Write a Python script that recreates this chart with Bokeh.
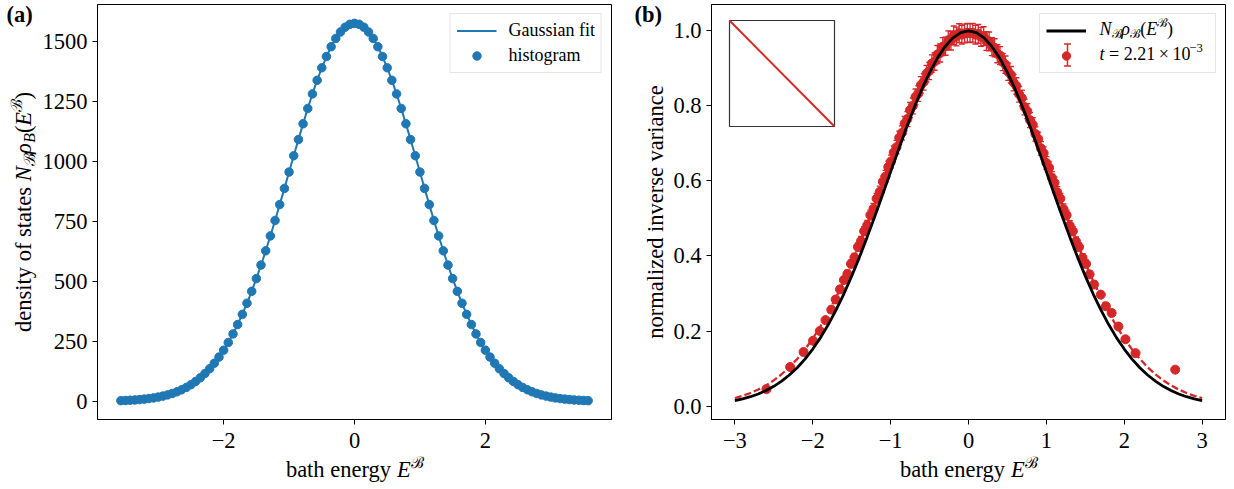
import math

from bokeh.core.properties import value
from bokeh.embed import file_html
from bokeh.layouts import row
from bokeh.models import (Arrow, ColumnDataSource, FixedTicker, Legend,
                          LegendItem, Range1d, TeeHead, Whisker)
from bokeh.plotting import figure
from bokeh.resources import INLINE

# ---------------- panel (a): histogram of bath energies ----------------
hist_energy = [
    -3.571, -3.5, -3.429, -3.357, -3.286, -3.214, -3.143, -3.071, -3.0, -2.929,
    -2.857, -2.786, -2.714, -2.643, -2.571, -2.5, -2.429, -2.357, -2.286, -2.214,
    -2.143, -2.071, -2.0, -1.929, -1.857, -1.786, -1.714, -1.643, -1.571, -1.5,
    -1.429, -1.357, -1.286, -1.214, -1.143, -1.071, -1.0, -0.929, -0.857, -0.786,
    -0.714, -0.643, -0.571, -0.5, -0.429, -0.357, -0.286, -0.214, -0.143, -0.071,
    0.0,
    0.071, 0.143, 0.214, 0.286, 0.357, 0.429, 0.5, 0.571, 0.643, 0.714,
    0.786, 0.857, 0.929, 1.0, 1.071, 1.143, 1.214, 1.286, 1.357, 1.429,
    1.5, 1.571, 1.643, 1.714, 1.786, 1.857, 1.929, 2.0, 2.071, 2.143,
    2.214, 2.286, 2.357, 2.429, 2.5, 2.571, 2.643, 2.714, 2.786, 2.857,
    2.929, 3.0, 3.071, 3.143, 3.214, 3.286, 3.357, 3.429, 3.5, 3.571,
]
hist_counts = [
    2.7, 3.4, 4.4, 5.6, 7.1, 9.0, 11.3, 14.1, 17.5, 21.6,
    26.6, 32.5, 39.6, 47.9, 57.8, 69.2, 82.5, 97.9, 115.6, 135.7,
    158.6, 184.3, 213.2, 245.3, 280.8, 319.8, 362.3, 408.5, 458.2, 511.3,
    567.7, 627.1, 689.2, 753.5, 819.7, 887.2, 955.3, 1023.4, 1090.8, 1156.7,
    1220.4, 1281.0, 1337.7, 1389.9, 1436.8, 1477.7, 1512.0, 1539.2, 1559.0, 1571.0,
    1575.0,
    1571.0, 1559.0, 1539.2, 1512.0, 1477.7, 1436.8, 1389.9, 1337.7, 1281.0, 1220.4,
    1156.7, 1090.8, 1023.4, 955.3, 887.2, 819.7, 753.5, 689.2, 627.1, 567.7,
    511.3, 458.2, 408.5, 362.3, 319.8, 280.8, 245.3, 213.2, 184.3, 158.6,
    135.7, 115.6, 97.9, 82.5, 69.2, 57.8, 47.9, 39.6, 32.5, 26.6,
    21.6, 17.5, 14.1, 11.3, 9.0, 7.1, 5.6, 4.4, 3.4, 2.7,
]
fit_energy = [
    -3.5, -3.4, -3.3, -3.2, -3.1, -3.0, -2.9, -2.8, -2.7, -2.6,
    -2.5, -2.4, -2.3, -2.2, -2.1, -2.0, -1.9, -1.8, -1.7, -1.6,
    -1.5, -1.4, -1.3, -1.2, -1.1, -1.0, -0.9, -0.8, -0.7, -0.6,
    -0.5, -0.4, -0.3, -0.2, -0.1, 0.0, 0.1, 0.2, 0.3, 0.4,
    0.5, 0.6, 0.7, 0.8, 0.9, 1.0, 1.1, 1.2, 1.3, 1.4,
    1.5, 1.6, 1.7, 1.8, 1.9, 2.0, 2.1, 2.2, 2.3, 2.4,
    2.5, 2.6, 2.7, 2.8, 2.9, 3.0, 3.1, 3.2, 3.3, 3.4, 3.5,
]
fit_counts = [
    3.4, 4.9, 6.8, 9.4, 12.9, 17.5, 23.5, 31.2, 41.1, 53.6,
    69.2, 88.4, 111.8, 140.1, 173.6, 213.2, 259.0, 311.7, 371.3, 437.9,
    511.3, 591.1, 676.6, 766.6, 860.1, 955.3, 1050.5, 1143.7, 1232.8, 1315.6,
    1389.9, 1453.9, 1505.7, 1543.8, 1567.1, 1575.0, 1567.1, 1543.8, 1505.7, 1453.9,
    1389.9, 1315.6, 1232.8, 1143.7, 1050.5, 955.3, 860.1, 766.6, 676.6, 591.1,
    511.3, 437.9, 371.3, 311.7, 259.0, 213.2, 173.6, 140.1, 111.8, 88.4,
    69.2, 53.6, 41.1, 31.2, 23.5, 17.5, 12.9, 9.4, 6.8, 4.9, 3.4,
]
a_xticks = [-2, 0, 2]
a_xtick_labels = ["\u22122", "0", "2"]
a_yticks = [0, 250, 500, 750, 1000, 1250, 1500]
a_ytick_labels = ["0", "250", "500", "750", "1000", "1250", "1500"]

# ---------------- panel (b): normalized inverse variance ----------------
inv_var_energy = [
    -2.594, -2.290, -2.118, -1.996, -1.909, -1.836, -1.762, -1.706, -1.650,
    -1.600, -1.555, -1.510, -1.465, -1.420, -1.380, -1.340, -1.300, -1.260,
    -1.220, -1.180, -1.140, -1.100,
    -1.065, -1.030, -0.995, -0.960, -0.925, -0.890, -0.855, -0.820, -0.785, -0.750,
    -0.715, -0.680, -0.645, -0.610, -0.575, -0.540, -0.505, -0.470, -0.435, -0.400,
    -0.365, -0.330, -0.295, -0.260, -0.225, -0.190, -0.155, -0.120, -0.085, -0.050,
    -0.015,
    0.020, 0.055, 0.090, 0.125, 0.160, 0.195, 0.230, 0.265, 0.300, 0.335,
    0.370, 0.405, 0.440, 0.475, 0.510, 0.545, 0.580, 0.615, 0.650, 0.685,
    0.720, 0.755, 0.790, 0.825, 0.860, 0.895, 0.930, 0.965, 1.000, 1.035,
    1.070, 1.105,
    1.140, 1.180, 1.220, 1.260, 1.300, 1.340, 1.380, 1.420, 1.465, 1.510, 1.555,
    1.612, 1.699, 1.764, 1.838, 1.925, 2.015, 2.145, 2.654,
]
inv_var = [
    0.045, 0.104, 0.144, 0.174, 0.200, 0.229, 0.257, 0.284, 0.311,
    0.336, 0.352, 0.379, 0.396, 0.424, 0.440, 0.466, 0.482, 0.509,
    0.526, 0.553, 0.571, 0.598,
    0.612, 0.637, 0.652, 0.676, 0.690, 0.715, 0.728, 0.753, 0.765, 0.789,
    0.800, 0.824, 0.833, 0.856, 0.864, 0.886, 0.893, 0.913, 0.918, 0.937,
    0.941, 0.958, 0.959, 0.975, 0.974, 0.988, 0.985, 0.994, 0.990, 0.993,
    0.995,
    0.994, 0.995, 0.990, 0.992, 0.984, 0.986, 0.973, 0.972, 0.958, 0.955,
    0.939, 0.934, 0.917, 0.910, 0.891, 0.883, 0.862, 0.853, 0.831, 0.821,
    0.797, 0.786, 0.762, 0.750, 0.725, 0.712, 0.687, 0.674, 0.648, 0.635,
    0.609, 0.595,
    0.570, 0.553, 0.525, 0.509, 0.481, 0.466, 0.439, 0.424, 0.395, 0.379, 0.351,
    0.324, 0.297, 0.266, 0.248, 0.212, 0.178, 0.141, 0.097,
]
inv_var_err = [
    0.004, 0.005, 0.006, 0.006, 0.007, 0.007, 0.008, 0.008, 0.009,
    0.009, 0.010, 0.010, 0.011, 0.011, 0.012, 0.012, 0.013, 0.013,
    0.014, 0.014, 0.015, 0.015,
    0.016, 0.016, 0.017, 0.017, 0.018, 0.018, 0.019, 0.019, 0.020, 0.020,
    0.021, 0.021, 0.021, 0.022, 0.022, 0.022, 0.023, 0.023, 0.023, 0.024,
    0.024, 0.024, 0.024, 0.025, 0.025, 0.025, 0.025, 0.025, 0.025, 0.025,
    0.025,
    0.025, 0.025, 0.025, 0.025, 0.025, 0.025, 0.025, 0.025, 0.024, 0.024,
    0.024, 0.024, 0.023, 0.023, 0.023, 0.022, 0.022, 0.022, 0.021, 0.021,
    0.021, 0.020, 0.020, 0.019, 0.019, 0.018, 0.018, 0.017, 0.017, 0.016,
    0.016, 0.015,
    0.015, 0.014, 0.014, 0.013, 0.013, 0.012, 0.012, 0.011, 0.011, 0.010, 0.010,
    0.009, 0.008, 0.008, 0.007, 0.007, 0.006, 0.006, 0.005,
]
curve_energy = [
    -3.0, -2.9, -2.8, -2.7, -2.6, -2.5, -2.4, -2.3, -2.2, -2.1,
    -2.0, -1.9, -1.8, -1.7, -1.6, -1.5, -1.4, -1.3, -1.2, -1.1,
    -1.0, -0.9, -0.8, -0.7, -0.6, -0.5, -0.4, -0.3, -0.2, -0.1,
    0.0,
    0.1, 0.2, 0.3, 0.4, 0.5, 0.6, 0.7, 0.8, 0.9, 1.0,
    1.1, 1.2, 1.3, 1.4, 1.5, 1.6, 1.7, 1.8, 1.9, 2.0,
    2.1, 2.2, 2.3, 2.4, 2.5, 2.6, 2.7, 2.8, 2.9, 3.0,
]
# N_B rho_B(E^B), normalised to its maximum
dos_curve = [
    0.0144, 0.0190, 0.0249, 0.0322, 0.0413, 0.0526, 0.0662, 0.0827, 0.1022, 0.1251,
    0.1518, 0.1824, 0.2172, 0.2561, 0.2992, 0.3463, 0.3970, 0.4509, 0.5073, 0.5654,
    0.6242, 0.6827, 0.7396, 0.7938, 0.8439, 0.8888, 0.9274, 0.9585, 0.9813, 0.9953,
    1.0,
    0.9953, 0.9813, 0.9585, 0.9274, 0.8888, 0.8439, 0.7938, 0.7396, 0.6827, 0.6242,
    0.5654, 0.5073, 0.4509, 0.3970, 0.3463, 0.2992, 0.2561, 0.2172, 0.1824, 0.1518,
    0.1251, 0.1022, 0.0827, 0.0662, 0.0526, 0.0413, 0.0322, 0.0249, 0.0190, 0.0144,
]
# Gaussian fit to the inverse-variance points
inv_var_fit = [
    0.0211, 0.0272, 0.0347, 0.0439, 0.0551, 0.0686, 0.0847, 0.1036, 0.1256, 0.1510,
    0.1800, 0.2128, 0.2494, 0.2897, 0.3337, 0.3812, 0.4316, 0.4846, 0.5394, 0.5953,
    0.6514, 0.7067, 0.7601, 0.8105, 0.8570, 0.8984, 0.9337, 0.9622, 0.9830, 0.9957,
    1.0,
    0.9957, 0.9830, 0.9622, 0.9337, 0.8984, 0.8570, 0.8105, 0.7601, 0.7067, 0.6514,
    0.5953, 0.5394, 0.4846, 0.4316, 0.3812, 0.3337, 0.2897, 0.2494, 0.2128, 0.1800,
    0.1510, 0.1256, 0.1036, 0.0847, 0.0686, 0.0551, 0.0439, 0.0347, 0.0272, 0.0211,
]
b_xticks = [-3, -2, -1, 0, 1, 2, 3]
b_xtick_labels = ["\u22123", "\u22122", "\u22121", "0", "1", "2", "3"]
b_yticks = [0.0, 0.2, 0.4, 0.6, 0.8, 1.0]
b_ytick_labels = ["0.0", "0.2", "0.4", "0.6", "0.8", "1.0"]
inset_x = [0.0, 1.0]
inset_y = [1.0, 0.0]

# ---------------- styling / layout ----------------
BLUE = "#1f77b4"
RED = "#d62728"
SERIF = "Liberation Serif"
FONT_PX = 22.5
LEGEND_PX = 18

FRAME_W, FRAME_H = 514, 415
BORDER_TOP, BORDER_BOTTOM = 4, 70
A_LEFT, A_RIGHT = 97, 9
B_LEFT, B_RIGHT = 91, 9
MID_RISE = 0.32   # height of the em-box middle above the baseline, in em

# advance widths (1/1000 em) of the Times-metric serif face
ROMAN = {" ": 250, "\u2009": 167, "(": 333, ")": 333, ".": 250, "=": 564,
         "\u00d7": 564, "\u2212": 564, "a": 444, "b": 500, "c": 444, "d": 500,
         "e": 444, "f": 333, "g": 500, "h": 500, "i": 278, "l": 278, "m": 778,
         "n": 500, "o": 500, "r": 333, "s": 389, "t": 278, "u": 500, "v": 500,
         "y": 500, "z": 444, "B": 667, "E": 611, "G": 722, "N": 722}
ROMAN.update({d: 500 for d in "0123456789"})
ITALIC = {"E": 611, "N": 667, "B": 611, "t": 278, "\u03c1": 500}
SCRIPT_B = "\u212c"
SCRIPT_W = 780


def text_width(s, style, px):
    table = ITALIC if style == "italic" else ROMAN
    units = 0
    for ch in s:
        if ch == SCRIPT_B:
            units += SCRIPT_W
        else:
            units += table.get(ch, ROMAN.get(ch, 500))
    return units * px / 1000.0


def place_text(p, sx, sy, text, px, style="normal", angle=0.0, align="left"):
    """Text whose baseline starts (sx, sy) pixels from the frame's bottom-left
    corner (sy counted upwards)."""
    rise = MID_RISE * px
    if angle:
        sx -= rise
    else:
        sy += rise
    p.text(x=[p.x_range.start], y=[p.y_range.start], text=[text],
           x_offset=sx, y_offset=-sy, angle=angle,
           text_font=value(SERIF), text_font_size=f"{px:.1f}px",
           text_font_style=style, text_color="black", text_align=align,
           text_baseline="middle", level="overlay")


def rich_label(p, sx, sy, pieces, px, vertical=False, centered=True):
    """Lay out a run of text pieces (text, style, scale, rise in em)."""
    widths = [text_width(t, st, px * sc) for t, st, sc, _ in pieces]
    pos = -sum(widths) / 2.0 if centered else 0.0
    for (t, st, sc, rise), w in zip(pieces, widths):
        lead = len(t) - len(t.lstrip(" "))
        along = pos + text_width(" " * lead, st, px * sc)
        up = rise * px
        if vertical:
            place_text(p, sx - up, sy + along, t.strip(" "), px * sc, st,
                       angle=math.pi / 2)
        else:
            place_text(p, sx + along, sy + up, t.strip(" "), px * sc, st)
        pos += w


def padded_range(values, frac=0.05):
    lo, hi = min(values), max(values)
    pad = (hi - lo) * frac
    return Range1d(lo - pad, hi + pad)


def make_figure(xr, yr, left, right):
    p = figure(x_range=xr, y_range=yr, frame_width=FRAME_W, frame_height=FRAME_H,
               min_border_left=left, min_border_right=right,
               min_border_top=BORDER_TOP, min_border_bottom=BORDER_BOTTOM,
               output_backend="svg", toolbar_location=None,
               background_fill_color="white", border_fill_color="white")
    p.grid.visible = False
    p.outline_line_color = "black"
    p.outline_line_width = 1
    p.outline_line_alpha = 1
    return p


def style_axes(p, xticks, xlabels, yticks, ylabels):
    p.xaxis.ticker = FixedTicker(ticks=xticks)
    p.yaxis.ticker = FixedTicker(ticks=yticks)
    p.xaxis.major_label_overrides = dict(zip(xticks, xlabels))
    p.yaxis.major_label_overrides = dict(zip(yticks, ylabels))
    for ax in p.axis:
        ax.axis_line_color = "black"
        ax.axis_line_width = 1
        ax.major_tick_line_color = "black"
        ax.major_tick_line_width = 1
        ax.major_tick_out = 5
        ax.major_tick_in = 0
        ax.minor_tick_line_color = None
        ax.major_label_text_font = SERIF
        ax.major_label_text_font_size = f"{FONT_PX}px"
        ax.major_label_text_color = "black"
    p.xaxis.major_label_standoff = 8
    p.yaxis.major_label_standoff = 5


def make_legend(items, label_width=None, bg_alpha=0.8):
    leg = Legend(items=items, location="top_right", margin=9, padding=6,
                 spacing=4, glyph_width=40, glyph_height=21, label_height=21,
                 label_standoff=12, label_text_font=SERIF,
                 label_text_font_size=f"{LEGEND_PX}px", label_text_color="black",
                 border_line_color="#cccccc", border_line_width=1,
                 background_fill_color="white", background_fill_alpha=bg_alpha)
    if label_width is not None:
        leg.label_width = label_width
    return leg


XLABEL = [("bath energy ", "normal", 1.0, 0.0), ("E", "italic", 1.0, 0.0),
          (SCRIPT_B, "normal", 0.7, 0.42)]
XLABEL_BASELINE = -57
PANEL_TAG_BASELINE = FRAME_H - 17

# ---------------- panel (a) ----------------
pa = make_figure(padded_range(hist_energy), padded_range(hist_counts + fit_counts),
                 A_LEFT, A_RIGHT)
style_axes(pa, a_xticks, a_xtick_labels, a_yticks, a_ytick_labels)
fit_r = pa.line(fit_energy, fit_counts, line_color=BLUE, line_width=2)
hist_r = pa.scatter(hist_energy, hist_counts, marker="circle", size=8.5,
                    fill_color=BLUE, line_color=BLUE)
pa.add_layout(make_legend([LegendItem(label="Gaussian fit", renderers=[fit_r]),
                           LegendItem(label="histogram", renderers=[hist_r])]))

rich_label(pa, FRAME_W / 2, XLABEL_BASELINE, XLABEL, FONT_PX)
rich_label(pa, -67, FRAME_H / 2,
           [("density of states ", "normal", 1.0, 0.0), ("N", "italic", 1.0, 0.0),
            (SCRIPT_B, "normal", 0.7, -0.18), ("\u03c1", "italic", 1.0, 0.0),
            ("B", "italic", 0.7, -0.18), ("(", "normal", 1.0, 0.0),
            ("E", "italic", 1.0, 0.0), (SCRIPT_B, "normal", 0.7, 0.42),
            (")", "normal", 1.0, 0.0)],
           FONT_PX, vertical=True)
place_text(pa, -91, PANEL_TAG_BASELINE, "(a)", FONT_PX, "bold")

# ---------------- panel (b) ----------------
lower = [v - e for v, e in zip(inv_var, inv_var_err)]
upper = [v + e for v, e in zip(inv_var, inv_var_err)]
pb = make_figure(padded_range(curve_energy + inv_var_energy),
                 padded_range(dos_curve + inv_var_fit + lower + upper),
                 B_LEFT, B_RIGHT)
style_axes(pb, b_xticks, b_xtick_labels, b_yticks, b_ytick_labels)

err_src = ColumnDataSource(dict(x=inv_var_energy, lower=lower, upper=upper))
pb.add_layout(Whisker(source=err_src, base="x", lower="lower", upper="upper",
                      dimension="height", line_color=RED, line_width=1.3,
                      level="underlay",
                      upper_head=TeeHead(size=6, line_color=RED, line_width=1.3),
                      lower_head=TeeHead(size=6, line_color=RED, line_width=1.3)))
pts_r = pb.scatter(inv_var_energy, inv_var, marker="circle", size=9,
                   fill_color=RED, line_color=RED)
pb.line(curve_energy, inv_var_fit, line_color=RED, line_width=2.3, line_dash="7 3")
dos_r = pb.line(curve_energy, dos_curve, line_color="black", line_width=2.8)

# inset axes in the upper left corner
INSET_LEFT, INSET_TOP, INSET_W, INSET_H = 18, 16, 105, 106
inset_bottom = FRAME_H - INSET_TOP - INSET_H
pb.extra_x_ranges = {"inset": Range1d(-INSET_LEFT / INSET_W,
                                      (FRAME_W - INSET_LEFT) / INSET_W)}
pb.extra_y_ranges = {"inset": Range1d(-inset_bottom / INSET_H,
                                      (FRAME_H - inset_bottom) / INSET_H)}
pb.quad(left=[min(inset_x)], right=[max(inset_x)], bottom=[min(inset_y)],
        top=[max(inset_y)], x_range_name="inset", y_range_name="inset",
        fill_color="white", line_color="#333333", line_width=1.2)
pb.line(inset_x, inset_y, x_range_name="inset", y_range_name="inset",
        line_color=RED, line_width=2)

LEG_B_W = 175
pb.add_layout(make_legend([LegendItem(label=" ", renderers=[dos_r]),
                           LegendItem(label=" ", renderers=[pts_r])],
                          label_width=LEG_B_W - 6 - 40 - 12 - 6, bg_alpha=0.0))

bx0, bx1 = pb.x_range.start, pb.x_range.end
by0, by1 = pb.y_range.start, pb.y_range.end


def bx(px):
    return bx0 + px * (bx1 - bx0) / FRAME_W


def by(px_from_top):
    return by1 - px_from_top * (by1 - by0) / FRAME_H


leg_left = FRAME_W - 9 - LEG_B_W
text_left = leg_left + 6 + 40 + 12
row1 = 9 + 6 + 10.5
row2 = row1 + 21 + 4
rich_label(pb, text_left, FRAME_H - (row1 + 5),
           [("N", "italic", 1.0, 0.0), (SCRIPT_B, "normal", 0.7, -0.18),
            ("\u03c1", "italic", 1.0, 0.0), (SCRIPT_B, "normal", 0.7, -0.18),
            ("(", "normal", 1.0, 0.0), ("E", "italic", 1.0, 0.0),
            (SCRIPT_B, "normal", 0.7, 0.42), (")", "normal", 1.0, 0.0)],
           LEGEND_PX, centered=False)
rich_label(pb, text_left, FRAME_H - (row2 + 5),
           [("t", "italic", 1.0, 0.0),
            (" = 2.21\u2009\u00d7\u200910", "normal", 1.0, 0.0),
            ("\u22123", "normal", 0.7, 0.42)],
           LEGEND_PX, centered=False)
# error-bar symbol of the legend entry
glyph_cx = leg_left + 6 + 20
pb.add_layout(Arrow(x_start=bx(glyph_cx), y_start=by(row2 + 11),
                    x_end=bx(glyph_cx), y_end=by(row2 - 11),
                    line_color=RED, line_width=1.5,
                    start=TeeHead(size=7, line_color=RED, line_width=1.5),
                    end=TeeHead(size=7, line_color=RED, line_width=1.5)))

rich_label(pb, FRAME_W / 2, XLABEL_BASELINE, XLABEL, FONT_PX)
place_text(pb, -49, FRAME_H / 2, "normalized inverse variance", FONT_PX,
           angle=math.pi / 2, align="center")
place_text(pb, -77, PANEL_TAG_BASELINE, "(b)", FONT_PX, "bold")

layout = row(pa, pb)
open("out.html", "w").write(file_html(layout, INLINE))
